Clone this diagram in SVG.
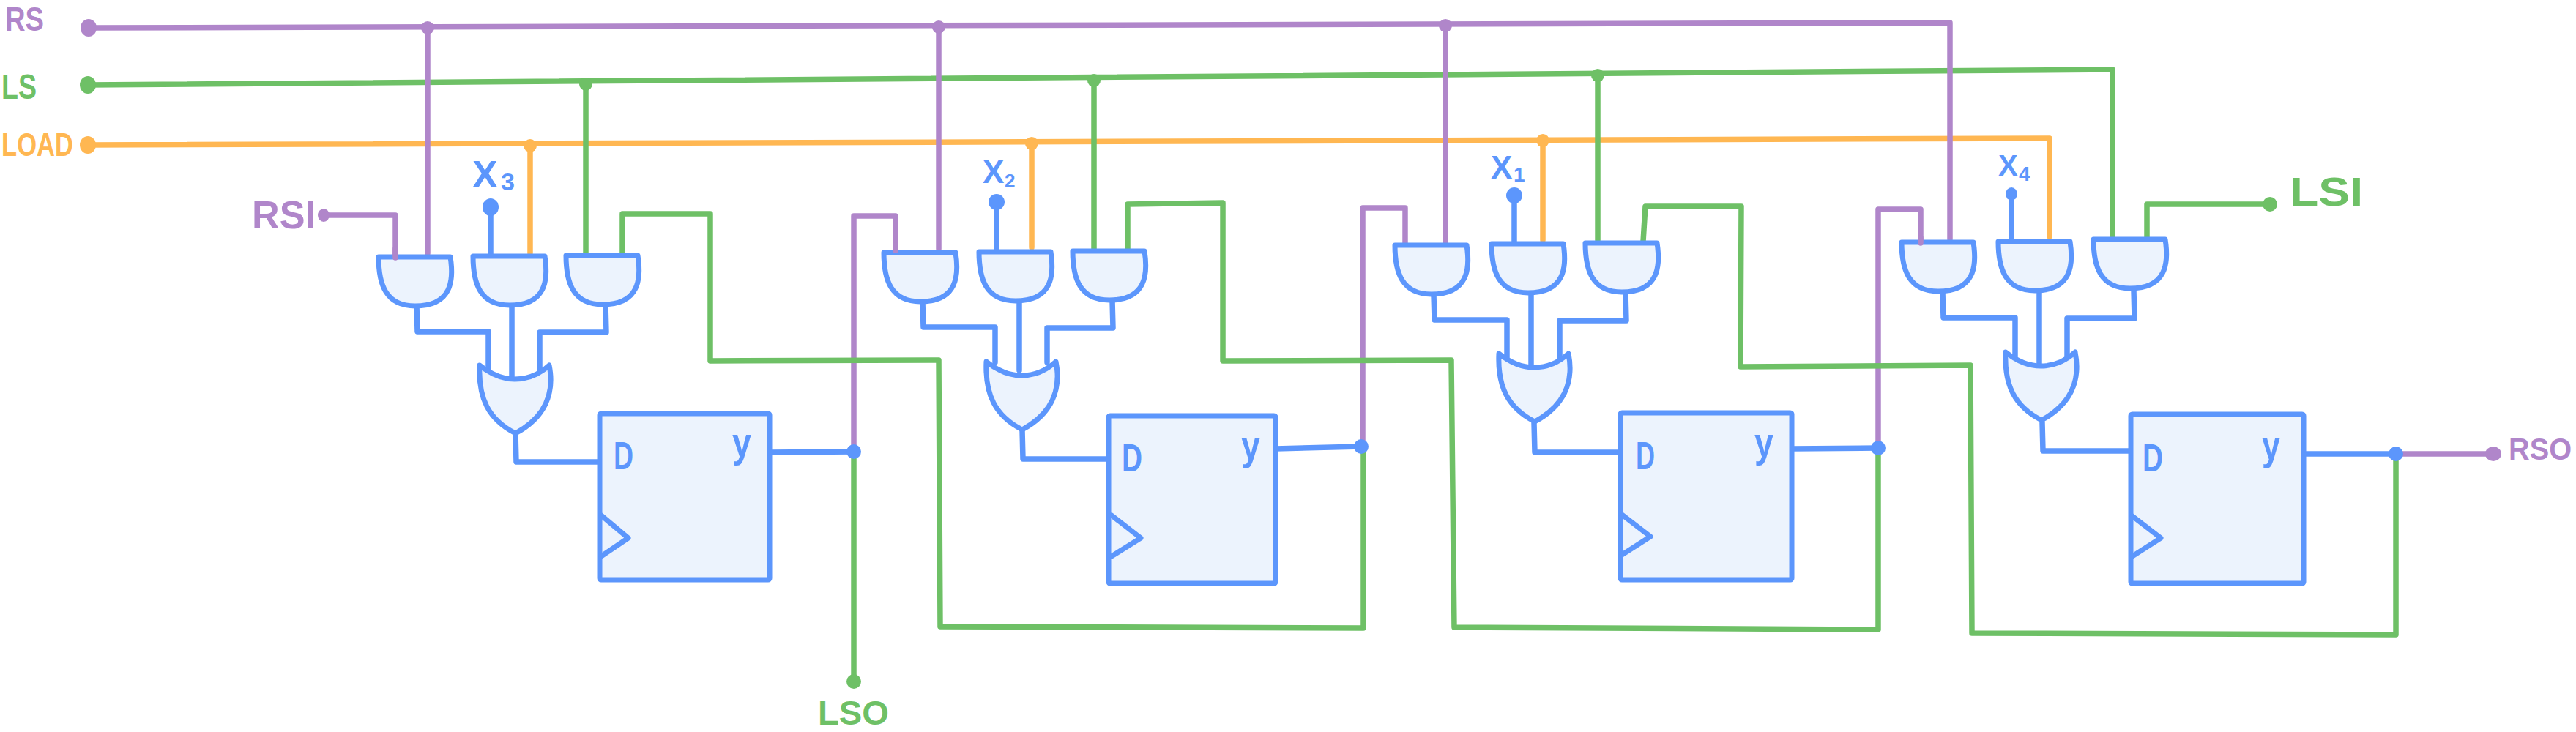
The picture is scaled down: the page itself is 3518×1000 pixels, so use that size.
<svg xmlns="http://www.w3.org/2000/svg" width="3518" height="1000" viewBox="0 0 3518 1000">
<style>
.w{fill:none;stroke-width:7.5;stroke-linecap:round;stroke-linejoin:round}
.p{stroke:#b086ca}.g{stroke:#6ec066}.o{stroke:#ffb752}.b{stroke:#5c96fc}
.gate,.ff,.tri{fill:#ecf3fd;stroke:#5c96fc;stroke-width:7;stroke-linejoin:round;stroke-linecap:round}
.tri{fill:none}
text{font-family:"Liberation Sans",Arial,sans-serif;font-weight:700}
.tp{fill:#b086ca}.tg{fill:#6ec066}.to{fill:#ffb752}.tb{fill:#5c96fc}
.dp{fill:#b086ca}.dg{fill:#6ec066}.do{fill:#ffb752}.db{fill:#5c96fc}
</style>
<defs>
<path id="and" d="M0,0H98C103,32 100,67 50,67C10,67 0,38 0,0Z"/>
<path id="or" d="M0,0C15,12 30,19 48,19C65,19 82,12 95,0C103,40 88,72 49,93C12,74 -2,45 0,0Z"/>
</defs>

<g id="labels">
<text class="tp" x="7" y="42" font-size="46" textLength="53" lengthAdjust="spacingAndGlyphs">RS</text>
<text class="tg" x="2" y="135" font-size="48" textLength="48" lengthAdjust="spacingAndGlyphs">LS</text>
<text class="to" x="2" y="213" font-size="44" textLength="98" lengthAdjust="spacingAndGlyphs">LOAD</text>
<text class="tp" x="344" y="312" font-size="54" textLength="87" lengthAdjust="spacingAndGlyphs">RSI</text>
<text class="tg" x="1117" y="990" font-size="46" textLength="97" lengthAdjust="spacingAndGlyphs">LSO</text>
<text class="tg" x="3127" y="281" font-size="56" textLength="100" lengthAdjust="spacingAndGlyphs">LSI</text>
<text class="tp" x="3426" y="628" font-size="42" textLength="86" lengthAdjust="spacingAndGlyphs">RSO</text>
<text class="tb" x="645" y="256" font-size="52">X<tspan x="684" y="260" font-size="34">3</tspan></text>
<text class="tb" x="1342" y="250" font-size="44">X<tspan x="1372" y="256" font-size="26">2</tspan></text>
<text class="tb" x="2036" y="244" font-size="44">X<tspan x="2067" y="248" font-size="28">1</tspan></text>
<text class="tb" x="2729" y="240" font-size="40">X<tspan x="2757" y="247" font-size="28">4</tspan></text>
</g>

<g id="connectors">
<path class="w o" d="M120,198L2799,189V323"/>
<path class="w o" d="M724,199V346M1409,196V338M2107,192V328"/>
<path class="w g" d="M120,116L2885,95V325"/>
<path class="w g" d="M800,115V346M1494,110V340M2182,103V328"/>
<path class="w p" d="M121,38L2663,31V327"/>
<path class="w p" d="M584,38V346M1282,37V340M1974,35V330"/>
<path class="w p" d="M442,294H540V352"/>
<path class="w p" d="M1166,617V295H1223V342"/>
<path class="w p" d="M1861,610V284H1919V332"/>
<path class="w p" d="M2565,612V286H2623V332"/>
<path class="w p" d="M3272,620H3405"/>
<path class="w g" d="M850,348V292H970V493L1282,492L1284,856L1862,858V610"/>
<path class="w g" d="M1540,340V279L1670,277V493L1982,492L1986,857L2565,860V612"/>
<path class="w g" d="M2244,330L2247,282H2378L2377,501L2691,499L2693,865L3272,867V620"/>
<path class="w g" d="M1166,617V931"/>
<path class="w g" d="M2932,327V279H3100"/>
<path class="w b" d="M670,283V348M1361,276V342M2068,267V332M2747,265V328"/>
<path class="w b" d="M569,417L570,453H667V505M699,417V515M827,416L828,454H737V505"/>
<path class="w b" d="M1260,413L1261,447H1359V495M1392,412V506M1519,410L1520,448H1430V495"/>
<path class="w b" d="M1958,403L1959,437H2058V488M2091,403V499M2220,400L2221,438H2130V490"/>
<path class="w b" d="M2653,400L2654,434H2752V487M2785,400V498M2914,397L2915,435H2823V487"/>
<path class="w b" d="M704,592L705,631H819M1051,618L1166,617"/>
<path class="w b" d="M1396,587L1397,627H1514M1742,613L1859,610"/>
<path class="w b" d="M2095,578L2096,618H2213M2447,613L2565,612"/>
<path class="w b" d="M2789,577L2790,616H2910M3146,620H3272"/>
</g>

<g id="dots">
<ellipse class="dp" cx="121" cy="38" rx="11" ry="12"/>
<ellipse class="dg" cx="120" cy="116" rx="11" ry="12"/>
<ellipse class="do" cx="120" cy="198" rx="11" ry="12"/>
<ellipse class="dp" cx="442" cy="294" rx="8" ry="9"/>
<circle class="dp" cx="584" cy="38" r="9"/><circle class="dp" cx="1282" cy="37" r="9"/><circle class="dp" cx="1974" cy="35" r="9"/>
<circle class="dg" cx="800" cy="115" r="9"/><circle class="dg" cx="1494" cy="110" r="9"/><circle class="dg" cx="2182" cy="103" r="9"/>
<circle class="do" cx="724" cy="199" r="9"/><circle class="do" cx="1409" cy="196" r="9"/><circle class="do" cx="2107" cy="192" r="9"/>
<ellipse class="db" cx="670" cy="283" rx="11" ry="12"/>
<ellipse class="db" cx="1361" cy="276" rx="11" ry="11"/>
<ellipse class="db" cx="2068" cy="267" rx="11" ry="11"/>
<ellipse class="db" cx="2747" cy="265" rx="8" ry="9"/>
<ellipse class="db" cx="1166" cy="617" rx="10" ry="10"/>
<ellipse class="db" cx="1859" cy="610" rx="10" ry="10"/>
<ellipse class="db" cx="2565" cy="612" rx="10" ry="10"/>
<ellipse class="db" cx="3272" cy="620" rx="10" ry="10"/>
<ellipse class="dg" cx="1166" cy="931" rx="10" ry="10"/>
<ellipse class="dg" cx="3100" cy="279" rx="10" ry="10"/>
<ellipse class="dp" cx="3405" cy="620" rx="11" ry="10"/>
</g>

<g id="stage1">
<use id="and1a" href="#and" class="gate" x="517" y="351"/>
<use id="and1b" href="#and" class="gate" x="646" y="350"/>
<use id="and1c" href="#and" class="gate" x="773" y="349"/>
<use id="or1" href="#or" class="gate" x="655" y="499"/>
<rect class="ff" x="819" y="565" width="232" height="227" rx="2"/>
<path class="tri" d="M821,704L858,735L821,760"/>
<text class="tb" x="838" y="641" font-size="54" textLength="27" lengthAdjust="spacingAndGlyphs">D</text>
<text class="tb" x="1000" y="624" font-size="58" textLength="26" lengthAdjust="spacingAndGlyphs">y</text>
</g>
<g id="stage2">
<use id="and2a" href="#and" class="gate" x="1207" y="345"/>
<use id="and2b" href="#and" class="gate" x="1337" y="344"/>
<use id="and2c" href="#and" class="gate" x="1465" y="343"/>
<use id="or2" href="#or" class="gate" x="1347" y="494"/>
<rect class="ff" x="1514" y="568" width="228" height="229" rx="2"/>
<path class="tri" d="M1518,704L1558,735L1518,760"/>
<text class="tb" x="1532" y="644" font-size="54" textLength="28" lengthAdjust="spacingAndGlyphs">D</text>
<text class="tb" x="1695" y="628" font-size="58" textLength="26" lengthAdjust="spacingAndGlyphs">y</text>
</g>
<g id="stage3">
<use id="and3a" href="#and" class="gate" x="1905" y="335"/>
<use id="and3b" href="#and" class="gate" x="2037" y="333"/>
<use id="and3c" href="#and" class="gate" x="2165" y="332"/>
<use id="or3" href="#or" class="gate" x="2047" y="483"/>
<rect class="ff" x="2213" y="564" width="234" height="228" rx="2"/>
<path class="tri" d="M2215,703L2254,733L2215,758"/>
<text class="tb" x="2234" y="641" font-size="54" textLength="26" lengthAdjust="spacingAndGlyphs">D</text>
<text class="tb" x="2396" y="624" font-size="58" textLength="26" lengthAdjust="spacingAndGlyphs">y</text>
</g>
<g id="stage4">
<use id="and4a" href="#and" class="gate" x="2597" y="331"/>
<use id="and4b" href="#and" class="gate" x="2729" y="330"/>
<use id="and4c" href="#and" class="gate" x="2859" y="327"/>
<use id="or4" href="#or" class="gate" x="2739" y="481"/>
<rect class="ff" x="2910" y="566" width="236" height="231" rx="2"/>
<path class="tri" d="M2912,705L2951,735L2912,760"/>
<text class="tb" x="2926" y="644" font-size="54" textLength="28" lengthAdjust="spacingAndGlyphs">D</text>
<text class="tb" x="3089" y="628" font-size="58" textLength="25" lengthAdjust="spacingAndGlyphs">y</text>
</g>
<g id="connector-overlays">
<path class="w p" d="M540,340V352"/>
<path class="w p" d="M1223,335V342"/>
<path class="w p" d="M2623,325V332"/>
</g>
</svg>
